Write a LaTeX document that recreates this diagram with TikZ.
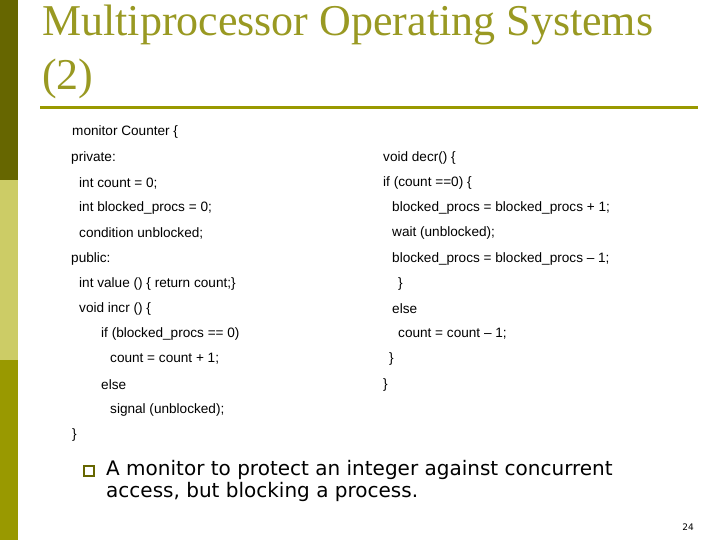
\documentclass[tikz,border=0pt]{standalone}
\usepackage{fontspec}
\setmainfont{Liberation Serif}
\newfontfamily\codef{Liberation Sans}
\newfontfamily\verd{DejaVu Sans}
\definecolor{olive1}{HTML}{666600}
\definecolor{olive2}{HTML}{CCCC66}
\definecolor{olive3}{HTML}{999900}
\definecolor{titlec}{HTML}{999922}
\begin{document}
\begin{tikzpicture}[x=1pt,y=-1pt,
  code/.style={anchor=west,inner sep=0pt,font=\codef\fontsize{13.6}{15}\selectfont},
  titl/.style={anchor=west,inner sep=0pt,font=\fontsize{44}{50}\selectfont,text=titlec}]
\useasboundingbox (0,0) rectangle (720,540);
\fill[white] (0,0) rectangle (720,540);
\fill[olive1] (0,0) rectangle (18,180);
\fill[olive2] (0,180) rectangle (18,360);
\fill[olive3] (0,360) rectangle (18,540);
\node[titl] (t1) at (42,25) {Multiprocessor Operating Systems};
\node[titl] (t2) at (42,79) {(2)};
\draw[olive3,line width=3] (40,108) -- (698,108);
\foreach \x/\y/\t in {72/132/{monitor Counter \{},71/158/{private:},79/183/{int count = 0;},79/208/{int blocked\_procs = 0;},79/233/{condition unblocked;},71/259/{public:},79/284/{int value () \{ return count;\}},79/309/{void incr () \{},101/334/{if (blocked\_procs == 0)},110/359/{count = count + 1;},101/385/{else},110/410/{signal (unblocked);},72/435/{\}},
383/158/{void decr() \{},383/183/{if (count ==0) \{},392/208/{blocked\_procs = blocked\_procs + 1;},392/233/{wait (unblocked);},392/259/{blocked\_procs = blocked\_procs \textendash{} 1;},398/284/{\}},392/309/{else},398/334/{count = count \textendash{} 1;},389/359/{\}},383/385/{\}}}
  \node[code] at (\x,\y) {\t};
\draw[olive1,line width=1.4] (84,466) rectangle (94,476) node (bx) {};
\node[anchor=north west,inner sep=0pt,align=left,font=\verd\fontsize{20}{22.5}\selectfont] (b) at (106,460) {A monitor to protect an integer against concurrent\\access, but blocking a process.};
\node[anchor=east,inner sep=0pt,font=\verd\fontsize{9}{10}\selectfont] (pn) at (694,527) {24};
\end{tikzpicture}
\end{document}
